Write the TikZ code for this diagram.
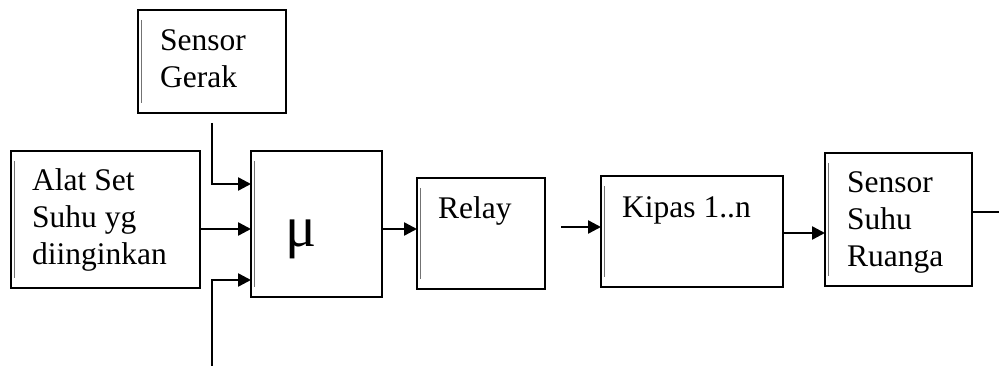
\documentclass[tikz,border=0pt]{standalone}
\usepackage{fontspec}
\setmainfont{Liberation Serif}
\usetikzlibrary{arrows.meta,calc}

\tikzset{
  blok/.style={draw, line width=2.8pt, inner sep=0pt, outer sep=0pt, anchor=north west,
    path picture={\draw[black!55, line width=1.1pt]
      ([shift={(3.2pt,-10pt)}]path picture bounding box.north west) --
      ([shift={(3.2pt,10pt)}]path picture bounding box.south west);}},
  teks/.style={font=\fontsize{31.5}{37}\selectfont, align=left, anchor=north west, inner sep=0pt},
  panah/.style={line width=2.4pt, -{Triangle[length=13pt,width=13pt]}},
  garis/.style={line width=2.4pt},
}

\begin{document}
\begin{tikzpicture}[x=1pt,y=-1pt]
\useasboundingbox (0,0) rectangle (999,366);

% kotak-kotak blok
\node[blok, minimum width=148pt, minimum height=103pt] (gerak) at (138,10) {};
\node[blok, minimum width=189pt, minimum height=137pt] (alat) at (11,151) {};
\node[blok, minimum width=131pt, minimum height=146pt] (mikro) at (251,151) {};
\node[blok, minimum width=128pt, minimum height=111pt] (relay) at (417,178) {};
\node[blok, minimum width=182pt, minimum height=111pt] (kipas) at (601,176) {};
\node[blok, minimum width=147pt, minimum height=133pt] (suhu) at (825,153) {};

% tulisan
\node[teks] (tgerak) at ([shift={(22pt,-14pt)}]gerak.north west) {\strut Sensor\\Gerak};
\node[teks] (talat) at ([shift={(21pt,-13pt)}]alat.north west) {\strut Alat Set\\Suhu yg\\diinginkan};
\node[teks] (trelay) at ([shift={(21pt,-14pt)}]relay.north west) {\strut Relay};
\node[teks] (tkipas) at ([shift={(21pt,-15pt)}]kipas.north west) {\strut Kipas 1..n};
\node[teks] (tsuhu) at ([shift={(22pt,-13pt)}]suhu.north west) {\strut Sensor\\Suhu\\Ruanga};
\node[font=\fontsize{58}{60}\selectfont, anchor=base west, inner sep=0pt] (mu)
  at ([shift={(34pt,-96pt)}]mikro.north west) {μ};

% titik bantu
\coordinate (m1) at ([yshift=-33pt]mikro.north west);
\coordinate (m2) at ([yshift=-78pt]mikro.north west);
\coordinate (m3) at ([yshift=-129pt]mikro.north west);
\coordinate (k1) at ([yshift=-51pt]kipas.north west);
\coordinate (k2) at ([yshift=-57pt]kipas.north east);
\coordinate (s1) at ([yshift=-59pt]suhu.north east);
\coordinate (bawah) at (212,366);
\coordinate (keluar) at (999,212);

% panah
\draw[panah] ([yshift=-10pt]gerak.south) |- (m1);
\draw[panah] (alat.east |- m2) -- (m2);
\draw[panah] (bawah) |- (m3);
\draw[panah] (m2 -| mikro.east) -- (m2 -| relay.west);
\draw[panah] ($(k1 -| relay.east)+(16pt,0)$) -- (k1);
\draw[panah] (k2) -- (k2 -| suhu.west);
\draw[garis] (s1) -- (keluar);
\end{tikzpicture}
\end{document}
